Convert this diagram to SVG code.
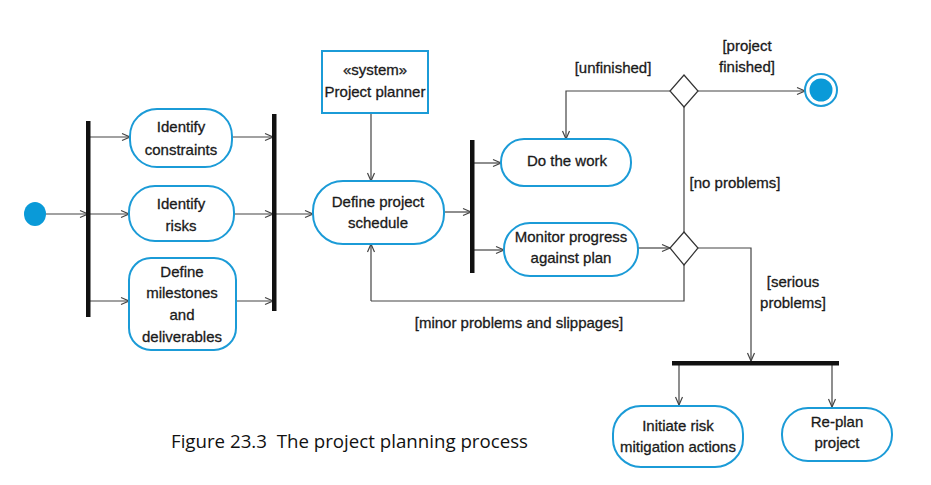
<svg xmlns="http://www.w3.org/2000/svg" width="931" height="485" viewBox="0 0 931 485">
<defs>
<marker id="arr" viewBox="0 0 10 10" refX="9" refY="5" markerWidth="10" markerHeight="10" markerUnits="userSpaceOnUse" orient="auto">
<path d="M1,1.5 L9,5 L1,8.5" fill="none" stroke="#444" stroke-width="1.2"/>
</marker>
</defs>
<style>
.act{fill:#fff;stroke:#1b9bd7;stroke-width:2}
.bar{fill:#111}
.t{font-family:"Liberation Sans",Arial,sans-serif;font-size:15px;fill:#1a1a1a;stroke:#1a1a1a;stroke-width:0.3;text-anchor:middle}
.c{fill:none;stroke:#444;stroke-width:1.2}
.ca{fill:none;stroke:#444;stroke-width:1.2;marker-end:url(#arr)}
.cap{font-family:"Open Sans","Noto Sans",sans-serif;font-size:19px;fill:#111;white-space:pre}
</style>
<rect width="931" height="485" fill="#fff"/>

<g id="connectors">
<path class="ca" d="M46,214 H88"/>
<path class="ca" d="M90,137 H130"/>
<path class="ca" d="M90,214 H129"/>
<path class="ca" d="M90,301 H129"/>
<path class="ca" d="M232,137 H273"/>
<path class="ca" d="M234,214 H273"/>
<path class="ca" d="M236,301 H273"/>
<path class="ca" d="M276,214 H313"/>
<path class="ca" d="M371,113 V181"/>
<path class="ca" d="M444,212 H471"/>
<path class="ca" d="M474,163 H501"/>
<path class="ca" d="M474,250 H504"/>
<path class="ca" d="M638,248 H670"/>
<path class="c" d="M684,232 V107"/>
<path class="ca" d="M670,91 H566 V139"/>
<path class="ca" d="M698,91 H805"/>
<path class="c" d="M684,265 V301 H371"/>
<path class="ca" d="M371,301 V244"/>
<path class="ca" d="M698,248 H751 V361"/>
<path class="ca" d="M679,365 V405"/>
<path class="ca" d="M832,365 V407"/>
</g>

<g id="start"><ellipse cx="35" cy="214" rx="11" ry="12" fill="#0a9ad8"/></g>
<g id="fork1"><rect class="bar" x="86" y="121" width="4.5" height="196"/></g>
<g id="join1"><rect class="bar" x="272" y="114" width="4.5" height="197"/></g>
<g id="fork2"><rect class="bar" x="470" y="140" width="4.5" height="133"/></g>
<g id="fork3"><rect class="bar" x="672" y="361" width="167" height="4.5"/></g>

<g id="identify-constraints">
<rect class="act" x="130" y="109" width="102" height="58" rx="27"/>
<text class="t" x="181" y="132">Identify</text>
<text class="t" x="181" y="155">constraints</text>
</g>
<g id="identify-risks">
<rect class="act" x="129" y="186" width="105" height="55" rx="26"/>
<text class="t" x="181" y="209">Identify</text>
<text class="t" x="181" y="231">risks</text>
</g>
<g id="define-milestones">
<rect class="act" x="129" y="258" width="107" height="92" rx="22"/>
<text class="t" x="182" y="277">Define</text>
<text class="t" x="182" y="298">milestones</text>
<text class="t" x="182" y="320">and</text>
<text class="t" x="182" y="342">deliverables</text>
</g>
<g id="project-planner">
<rect x="322" y="51" width="106" height="62" fill="#fff" stroke="#1b9bd7" stroke-width="2"/>
<text class="t" x="375" y="75">«system»</text>
<text class="t" x="375" y="97">Project planner</text>
</g>
<g id="define-schedule">
<rect class="act" x="313" y="181" width="131" height="63" rx="30"/>
<text class="t" x="378" y="207">Define project</text>
<text class="t" x="378" y="228">schedule</text>
</g>
<g id="do-work">
<rect class="act" x="501" y="139" width="130" height="47" rx="23"/>
<text class="t" x="567" y="166">Do the work</text>
</g>
<g id="monitor">
<rect class="act" x="504" y="223" width="134" height="53" rx="26"/>
<text class="t" x="571" y="242">Monitor progress</text>
<text class="t" x="571" y="263">against plan</text>
</g>
<g id="decision1"><path d="M684,75 L698,91 L684,107 L670,91 Z" fill="#fff" stroke="#333" stroke-width="1.2"/></g>
<g id="decision2"><path d="M684,232 L698,248 L684,265 L670,248 Z" fill="#fff" stroke="#333" stroke-width="1.2"/></g>
<g id="end">
<circle cx="821" cy="90" r="16" fill="#fff" stroke="#1b9bd7" stroke-width="2"/>
<circle cx="821" cy="90" r="11.5" fill="#0a9ad8"/>
</g>
<g id="initiate-risk">
<rect class="act" x="613" y="406" width="130" height="61" rx="28"/>
<text class="t" x="678" y="431">Initiate risk</text>
<text class="t" x="678" y="452">mitigation actions</text>
</g>
<g id="replan">
<rect class="act" x="782" y="408" width="110" height="53" rx="26"/>
<text class="t" x="837" y="427">Re-plan</text>
<text class="t" x="837" y="448">project</text>
</g>

<g id="labels">
<text class="t" x="613" y="73">[unfinished]</text>
<text class="t" x="747" y="51">[project</text>
<text class="t" x="747" y="72">finished]</text>
<text class="t" x="735" y="188">[no problems]</text>
<text class="t" x="793" y="287">[serious</text>
<text class="t" x="793" y="308">problems]</text>
<text class="t" x="519" y="328">[minor problems and slippages]</text>
</g>
<text class="cap" x="171" y="448" textLength="357" lengthAdjust="spacingAndGlyphs" xml:space="preserve">Figure 23.3  The project planning process</text>
</svg>
